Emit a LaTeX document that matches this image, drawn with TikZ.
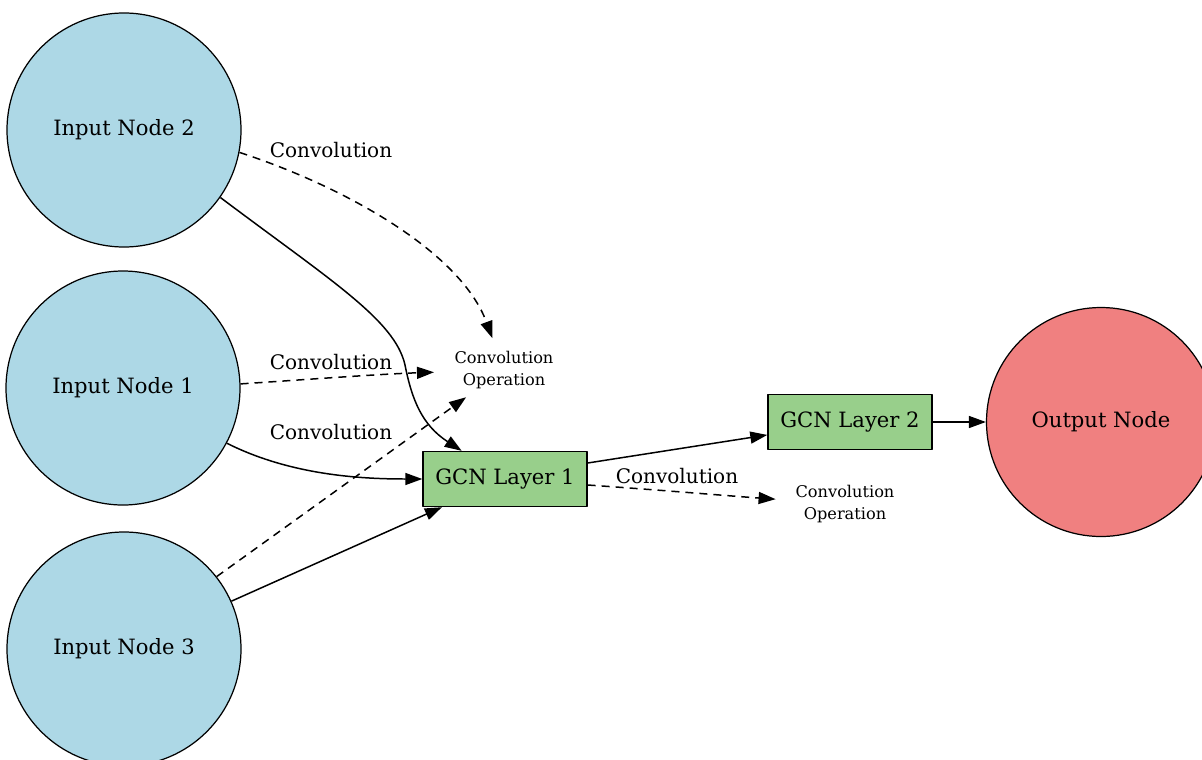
\documentclass[tikz,border=0pt]{standalone}
\usepackage{fontspec}
\setmainfont{DejaVu Serif}
\usetikzlibrary{arrows.meta,shapes.geometric}
\definecolor{inblue}{HTML}{ADD8E6}
\definecolor{layergreen}{HTML}{98CF8B}
\definecolor{outred}{HTML}{F08080}
\begin{document}
\begin{tikzpicture}[x=0.2mm,y=-0.2mm,>={Triangle[length=3.4mm,width=2.4mm]},line join=round,
	innode/.style={circle,draw,line width=0.7pt,fill=inblue,minimum size=46.8mm,inner sep=0pt,font=\fontsize{12}{14}\selectfont},
	outnode/.style={circle,draw,line width=0.7pt,fill=outred,minimum size=45.8mm,inner sep=0pt,font=\fontsize{12}{14}\selectfont},
	layer/.style={rectangle,draw,line width=0.8pt,fill=layergreen,minimum width=32.8mm,minimum height=11mm,inner sep=0pt,font=\fontsize{12}{14}\selectfont},
	opnode/.style={ellipse,minimum width=26.4mm,minimum height=12.8mm,inner sep=0pt,align=center,font=\fontsize{9.2}{12.5}\selectfont},
	convlbl/.style={inner sep=0pt,font=\fontsize{11.4}{13}\selectfont},
	conv/.style={->,line width=0.85pt,dash pattern=on 1.6mm off 1.2mm},
	link/.style={->,line width=0.85pt}]
	\useasboundingbox (0,0) rectangle (1202,760);
	% graph nodes
	\node[innode] (in2) at (124,130) {Input Node 2};
	\node[innode] (in1) at (123,388) {Input Node 1};
	\node[innode] (in3) at (124,649) {Input Node 3};
	\node[layer] (gcn1) at (505,479) {GCN Layer 1};
	\node[layer] (gcn2) at (850,422) {GCN Layer 2};
	\node[outnode] (out) at (1101,422) {Output Node};
	\node[opnode] (op1) at (504,370) {Convolution\\Operation};
	\node[opnode] (op2) at (845,504) {Convolution\\Operation};
	% edge labels
	\node[convlbl] (lbl2) at (331,150) {Convolution};
	\node[convlbl] (lbl1) at (331,362) {Convolution};
	\node[convlbl] (lbl3) at (331,432) {Convolution};
	\node[convlbl] (lblg) at (677,476) {Convolution};
	% convolution edges
	\draw[conv] (in2.-11) .. controls (340,185) and (460,250) .. (op1);
	\draw[conv] (in1.2) .. controls (300,380) and (380,374) .. (op1);
	\draw[conv] (in3.38) -- (op1);
	\draw[conv] (gcn1.east|-0,485) .. controls (660,490) and (730,496) .. (op2);
	% forward edges
	\draw[link] (in2.-35) .. controls (330,280) and (395,320) .. (405,365)
		.. controls (412,400) and (422,425) .. (gcn1);
	\draw[link] (in1.-28) .. controls (290,475) and (360,479) .. (gcn1);
	\draw[link] (in3.24) -- (gcn1);
	\draw[link] (gcn1.east|-0,463) -- (gcn2);
	\draw[link] (gcn2) -- (out);
\end{tikzpicture}
\end{document}
